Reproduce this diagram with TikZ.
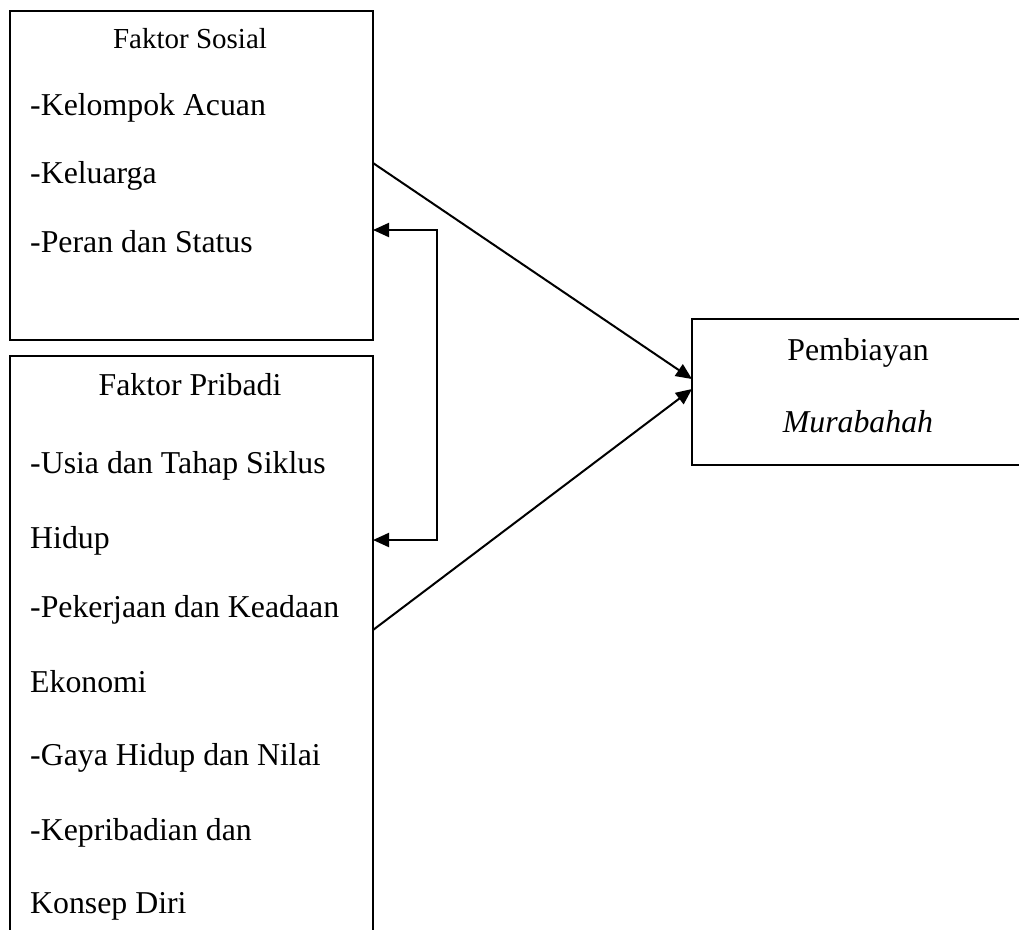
\documentclass[tikz,border=0pt]{standalone}
\usepackage{fontspec}
\setmainfont{Liberation Serif}
\usetikzlibrary{arrows.meta}
\begin{document}
\begin{tikzpicture}[x=1pt,y=-1pt,
  txt/.style={inner sep=0pt,anchor=base west,font=\fontsize{31.8}{36}\selectfont},
  ctxt/.style={inner sep=0pt,anchor=base,font=\fontsize{31.8}{36}\selectfont},
  box/.style={draw,line width=2pt,rectangle,inner sep=0pt},
  arr/.style={line width=2pt,-{Triangle[length=16pt,width=14pt]}}]
\clip (0,0) rectangle (1019,929);
\fill[white] (0,0) rectangle (1019,929);
% boxes
\node[box,minimum width=363pt,minimum height=329pt] (sosial) at (191.5,175.5) {};
\draw[line width=2pt] (10,940) -- (10,356) -- (373,356) -- (373,940);
\coordinate (pR) at (373,630);
\node[box,minimum width=340pt,minimum height=146pt] (murab) at (862,392) {};
% texts
\node[ctxt,font=\fontsize{29}{34}\selectfont] (t1) at (190,48) {Faktor Sosial};
\node[txt] (t2) at (30,115) {-Kelompok Acuan};
\node[txt] (t3) at (30,183) {-Keluarga};
\node[txt] (t4) at (30,252) {-Peran dan Status};
\node[ctxt] (p1) at (190,395) {Faktor Pribadi};
\node[txt] (p2) at (30,473) {-Usia dan Tahap Siklus};
\node[txt] (p3) at (30,548) {Hidup};
\node[txt] (p4) at (30,617) {-Pekerjaan dan Keadaan};
\node[txt] (p5) at (30,692) {Ekonomi};
\node[txt] (p6) at (30,765) {-Gaya Hidup dan Nilai};
\node[txt] (p7) at (30,840) {-Kepribadian dan};
\node[txt] (p8) at (30,913) {Konsep Diri};
\node[ctxt] (m1) at (858,360) {Pembiayan};
\node[ctxt] (m2) at (858,432) {\itshape Murabahah};
% connectors
\coordinate (s1) at (373,163);
\coordinate (e1) at (692,379);
\coordinate (e2) at (692,389);
\draw[arr] (s1) -- (e1);
\draw[arr] (pR) -- (e2);
\coordinate (b1) at (437,230);
\coordinate (b2) at (437,540);
\coordinate (a1) at (373,230);
\coordinate (a2) at (373,540);
\draw[arr] (b2) -- (b1) -- (a1);
\draw[arr] (b1) -- (b2) -- (a2);
\end{tikzpicture}
\end{document}
